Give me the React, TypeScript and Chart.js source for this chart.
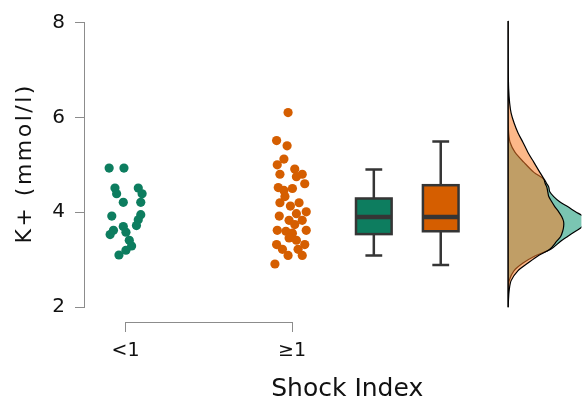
import React, { useEffect, useRef } from 'react';
import { Chart, registerables } from 'chart.js';

Chart.register(...registerables);

// ---- data ----
const groupLabels = ['<1', '≥1'];
const yTickValues = [2, 4, 6, 8];

// Shock Index < 1 : K+ values and horizontal jitter positions
const lowK = [4.93, 4.93, 4.51, 4.39, 4.51, 4.39, 4.21, 4.21, 3.92, 3.95, 3.84, 3.72, 3.62, 3.53, 3.70, 3.58, 3.41, 3.29, 3.20, 3.10];
const lowPos = [-0.099, -0.010, -0.064, -0.054, 0.076, 0.099, -0.014, 0.091, -0.083, 0.091, 0.076, 0.065, -0.073, -0.093, -0.014, 0.002, 0.022, 0.036, 0.002, -0.040];

// Shock Index >= 1
const highK = [6.10, 5.51, 5.40, 5.12, 5.00, 4.80, 4.91, 4.80, 4.75, 4.60, 4.52, 4.46, 4.50, 4.33, 4.20, 4.20, 4.13, 4.01, 3.92, 3.97, 3.83, 3.83, 3.74, 3.62, 3.62, 3.60, 3.56, 3.46, 3.41, 3.32, 3.32, 3.22, 3.22, 3.09, 3.09, 2.91];
const highPos = [0.976, 0.907, 0.970, 0.951, 0.911, 0.927, 1.016, 1.061, 1.026, 1.076, 0.917, 0.951, 1.002, 0.957, 0.927, 1.042, 0.990, 1.085, 0.923, 1.026, 0.982, 1.061, 1.016, 0.911, 1.085, 0.963, 1.002, 0.982, 1.026, 0.907, 1.076, 0.942, 1.036, 0.976, 1.061, 0.897];

// box stats: [lower whisker, q1, median, q3, upper whisker]
const lowBox = [3.09, 3.54, 3.90, 4.29, 4.90];
const highBox = [2.89, 3.60, 3.90, 4.57, 5.49];
const boxPos = [1.491, 1.893];

// density curves (K+ grid and density)
const densK = [2.0, 2.15, 2.35, 2.56, 2.77, 2.93, 3.08, 3.22, 3.39, 3.49, 3.60, 3.70, 3.80, 3.91, 4.01, 4.12, 4.22, 4.33, 4.43, 4.53, 4.60, 4.70, 4.84, 5.05, 5.26, 5.47, 5.67, 5.88, 6.09, 6.30, 6.60, 7.0, 7.5, 8.0];
const lowDens = [0, 0.001, 0.003, 0.01, 0.06, 0.15, 0.27, 0.43, 0.53, 0.60, 0.68, 0.75, 0.78, 0.76, 0.68, 0.60, 0.52, 0.46, 0.42, 0.41, 0.39, 0.36, 0.26, 0.16, 0.07, 0.02, 0.005, 0.001, 0, 0, 0, 0, 0, 0];
const highDens = [0, 0.003, 0.01, 0.03, 0.10, 0.20, 0.30, 0.42, 0.49, 0.53, 0.55, 0.56, 0.56, 0.54, 0.51, 0.47, 0.44, 0.41, 0.40, 0.39, 0.375, 0.36, 0.32, 0.26, 0.20, 0.15, 0.10, 0.06, 0.03, 0.015, 0.005, 0.001, 0, 0];
const densBase = 2.298;

// ---- styles ----
const GREEN = '#0d7d5f';
const ORANGE = '#d55e00';
const GREEN_A = 'rgba(13,150,115,0.55)';
const ORANGE_A = 'rgba(250,125,40,0.55)';
const AXIS = '#8c8c8c';
const FONT = 'DejaVu Sans';
const DENS_SCALE = 100 / 168;
const BOX_W = 0.214;
const CAP_W = 0.101;
const X_TITLE_SHIFT = 14;
const Y_TITLE_SPACING = '2.5px';

function densityPoints(d: number[]) {
  const pts = densK.map((k, i) => ({ x: densBase + d[i] * DENS_SCALE, y: k }));
  pts.push({ x: densBase, y: densK[0] });
  return pts;
}

const titleTweakPlugin = {
  id: 'titleTweak',
  afterUpdate(chart: any) {
    const sx = chart.scales.x, sy = chart.scales.y;
    if (sx && !sx._tw) {
      const orig = sx.drawTitle.bind(sx);
      sx.drawTitle = () => { const c = chart.ctx; c.save(); c.translate(X_TITLE_SHIFT, 0); orig(); c.restore(); };
      sx._tw = true;
    }
    if (sy && !sy._tw) {
      const orig = sy.drawTitle.bind(sy);
      sy.drawTitle = () => { const c = chart.ctx; c.save(); (c as any).letterSpacing = Y_TITLE_SPACING; orig(); c.restore(); };
      sy._tw = true;
    }
  },
};

const axisLinePlugin = {
  id: 'axisLines',
  afterDraw(chart: any) {
    const { ctx, chartArea, scales } = chart;
    const x = scales.x, y = scales.y;
    ctx.save();
    ctx.strokeStyle = AXIS;
    ctx.lineWidth = 1;
    ctx.beginPath();
    const lx = Math.round(chartArea.left) - 0.5;
    ctx.moveTo(lx, y.getPixelForValue(yTickValues[yTickValues.length - 1]));
    ctx.lineTo(lx, y.getPixelForValue(yTickValues[0]));
    const by = Math.round(chartArea.bottom) + 0.5;
    ctx.moveTo(x.getPixelForValue(0), by);
    ctx.lineTo(x.getPixelForValue(groupLabels.length - 1), by);
    ctx.stroke();
    ctx.restore();
  },
};

const boxPlugin = {
  id: 'boxes',
  afterDatasetsDraw(chart: any) {
    const { ctx, scales } = chart;
    const x = scales.x, y = scales.y;
    const stats = [lowBox, highBox];
    const fills = [GREEN, ORANGE];
    stats.forEach((s, i) => {
      const cx = x.getPixelForValue(boxPos[i]);
      const half = x.getPixelForValue(boxPos[i] + BOX_W / 2) - cx;
      const capHalf = x.getPixelForValue(boxPos[i] + CAP_W / 2) - cx;
      const [mn, q1, med, q3, mx] = s.map((v) => y.getPixelForValue(v));
      ctx.save();
      ctx.strokeStyle = '#353535';
      ctx.lineWidth = 2.5;
      ctx.beginPath();
      ctx.moveTo(cx, q3); ctx.lineTo(cx, mx);
      ctx.moveTo(cx, q1); ctx.lineTo(cx, mn);
      ctx.moveTo(cx - capHalf, mx); ctx.lineTo(cx + capHalf, mx);
      ctx.moveTo(cx - capHalf, mn); ctx.lineTo(cx + capHalf, mn);
      ctx.stroke();
      ctx.fillStyle = fills[i];
      ctx.fillRect(cx - half, q3, 2 * half, q1 - q3);
      ctx.strokeRect(cx - half, q3, 2 * half, q1 - q3);
      ctx.lineWidth = 4.5;
      ctx.beginPath();
      ctx.moveTo(cx - half, med); ctx.lineTo(cx + half, med);
      ctx.stroke();
      ctx.restore();
    });
  },
};

export default function App() {
  const ref = useRef<HTMLCanvasElement | null>(null);
  useEffect(() => {
    if (!ref.current) return;
    Chart.defaults.font.family = FONT;
    Chart.defaults.color = '#111';
    const chart = new Chart(ref.current, {
      type: 'scatter',
      data: {
        datasets: [
          {
            type: 'line',
            data: densityPoints(highDens),
            borderColor: '#000',
            borderWidth: 1.2,
            backgroundColor: ORANGE_A,
            fill: 'shape',
            pointRadius: 0,
            tension: 0.3,
          } as any,
          {
            type: 'line',
            data: densityPoints(lowDens),
            borderColor: '#000',
            borderWidth: 1.2,
            backgroundColor: GREEN_A,
            fill: 'shape',
            pointRadius: 0,
            tension: 0.3,
          } as any,
          {
            data: lowK.map((k, i) => ({ x: lowPos[i], y: k })),
            backgroundColor: GREEN,
            borderWidth: 0,
            pointRadius: 4.6,
          },
          {
            data: highK.map((k, i) => ({ x: highPos[i], y: k })),
            backgroundColor: ORANGE,
            borderWidth: 0,
            pointRadius: 4.6,
          },
        ],
      },
      options: {
        animation: false,
        responsive: false,
        devicePixelRatio: 1,
        layout: { padding: 0 },
        plugins: { legend: { display: false }, tooltip: { enabled: false } },
        scales: {
          x: {
            type: 'linear',
            min: -0.244,
            max: 2.738,
            afterFit: (s: any) => { s.height = 85; s.paddingLeft = 0; s.paddingRight = 0; s.paddingTop = 0; s.paddingBottom = 0; },
            afterBuildTicks: (s: any) => { s.ticks = groupLabels.map((_, i) => ({ value: i })); },
            grid: { drawOnChartArea: false, drawTicks: true, tickLength: 10, color: AXIS, lineWidth: 1 },
            border: { display: false },
            ticks: {
              padding: 8,
              maxRotation: 0,
              autoSkip: false,
              font: { size: 19 },
              color: '#111',
              callback: (v: any) => groupLabels[Math.round(Number(v))],
            },
            title: { display: true, text: 'Shock Index', font: { size: 25 }, color: '#111', padding: { top: 0, bottom: 3 } },
          },
          y: {
            type: 'linear',
            min: 1.6886,
            max: 8.3737,
            afterFit: (s: any) => { s.width = 85; s.paddingTop = 0; s.paddingBottom = 0; s.paddingLeft = 0; s.paddingRight = 0; },
            afterBuildTicks: (s: any) => { s.ticks = yTickValues.map((v) => ({ value: v })); },
            grid: { drawOnChartArea: false, drawTicks: true, tickLength: 10, color: AXIS, lineWidth: 1 },
            border: { display: false },
            ticks: { padding: 10, font: { size: 20 }, color: '#111', callback: (v: any) => String(v) },
            title: { display: true, text: 'K+ (mmol/l)', font: { size: 22 }, color: '#111', padding: { top: 12, bottom: 0 } },
          },
        },
      },
      plugins: [titleTweakPlugin, axisLinePlugin, boxPlugin],
    });
    return () => chart.destroy();
  }, []);
  return (
    <div style={{ position: 'absolute', left: 0, top: 0, width: 586, height: 407, background: '#fff' }}>
      <canvas ref={ref} width={586} height={407} style={{ display: 'block' }} />
    </div>
  );
}
